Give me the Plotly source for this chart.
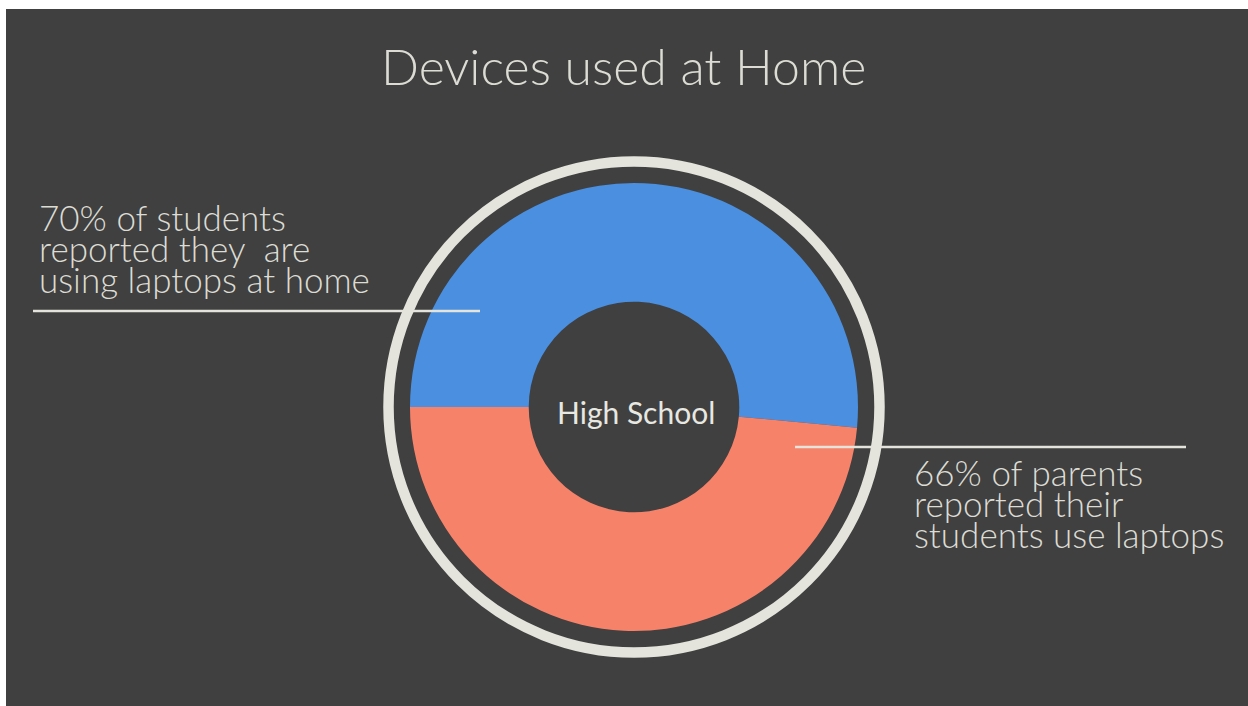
import plotly.graph_objects as go

W, H = 1248, 706

# Survey shares shown in the donut
segments = ["Students: laptops at home", "Parents: students use laptops"]
shares = [70, 66]
seg_colors = ["#4a8fe0", "#f7826a"]

title_text = "Devices used at Home"
center_label = "High School"
left_lines = ["70% of students", "reported they  are", "using laptops at home"]
right_lines = ["66% of parents", "reported their", "students use laptops"]

BG = "#404040"
LIGHT = "#e4e4dc"
TEXT = "#dcdcd4"


def px(x):
    return x / W


def py(y):
    return 1 - y / H


cx, cy, r_pie = 634, 407, 224

fig = go.Figure()
fig.add_trace(go.Pie(
    labels=segments,
    values=shares,
    hole=0.47,
    sort=False,
    direction="clockwise",
    rotation=-90,
    marker=dict(colors=seg_colors, line=dict(width=0)),
    textinfo="none",
    hoverinfo="label+percent",
    showlegend=False,
    domain=dict(x=[px(cx - r_pie), px(cx + r_pie)],
                y=[py(cy + r_pie), py(cy - r_pie)]),
))

shapes = []
# white frame strips on the left and top edges
shapes.append(dict(type="rect", xref="paper", yref="paper", x0=0, x1=px(6), y0=0, y1=1,
                   fillcolor="white", line=dict(width=0), layer="above"))
shapes.append(dict(type="rect", xref="paper", yref="paper", x0=0, x1=1, y0=py(9), y1=1,
                   fillcolor="white", line=dict(width=0), layer="above"))
# outer ring around the donut
r_ring = 245.5
shapes.append(dict(type="circle", xref="paper", yref="paper",
                   x0=px(cx - r_ring), x1=px(cx + r_ring),
                   y0=py(cy + r_ring), y1=py(cy - r_ring),
                   line=dict(color=LIGHT, width=10.5), fillcolor="rgba(0,0,0,0)", layer="above"))
# callout rules
shapes.append(dict(type="line", xref="paper", yref="paper", x0=px(33), x1=px(480),
                   y0=py(311), y1=py(311), line=dict(color=LIGHT, width=2.5), layer="above"))
shapes.append(dict(type="line", xref="paper", yref="paper", x0=px(795), x1=px(1186),
                   y0=py(447), y1=py(447), line=dict(color=LIGHT, width=2.5), layer="above"))

annotations = []
annotations.append(dict(text=title_text, x=px(623), y=py(66), xref="paper", yref="paper",
                        xanchor="center", yanchor="middle", showarrow=False,
                        font=dict(family="Lato", size=50, color=TEXT, weight=300)))
annotations.append(dict(text=center_label, x=px(636), y=py(412), xref="paper", yref="paper",
                        xanchor="center", yanchor="middle", showarrow=False,
                        font=dict(family="Lato", size=30, color="#e8e8e2")))


# callout paragraphs: a small base size sets the tight leading (1.3 x base),
# while each line is drawn at the larger glyph size
def paragraph(lines, glyph_px):
    return "<br>".join(f'<span style="font-size:{glyph_px}px">{s}</span>' for s in lines)


base_size = 24
glyph_size = 35
annotations.append(dict(text=paragraph(left_lines, glyph_size), x=px(37), y=py(194),
                        xref="paper", yref="paper", xanchor="left", yanchor="top",
                        align="left", showarrow=False,
                        font=dict(family="Lato", size=base_size, color=TEXT, weight=300)))
annotations.append(dict(text=paragraph(right_lines, glyph_size), x=px(912), y=py(449),
                        xref="paper", yref="paper", xanchor="left", yanchor="top",
                        align="left", showarrow=False,
                        font=dict(family="Lato", size=base_size, color=TEXT, weight=300)))

fig.update_layout(
    width=W, height=H,
    margin=dict(l=0, r=0, t=0, b=0),
    paper_bgcolor=BG, plot_bgcolor=BG,
    shapes=shapes, annotations=annotations,
    showlegend=False,
)

fig.write_html("out.html", config=dict(displayModeBar=False))
